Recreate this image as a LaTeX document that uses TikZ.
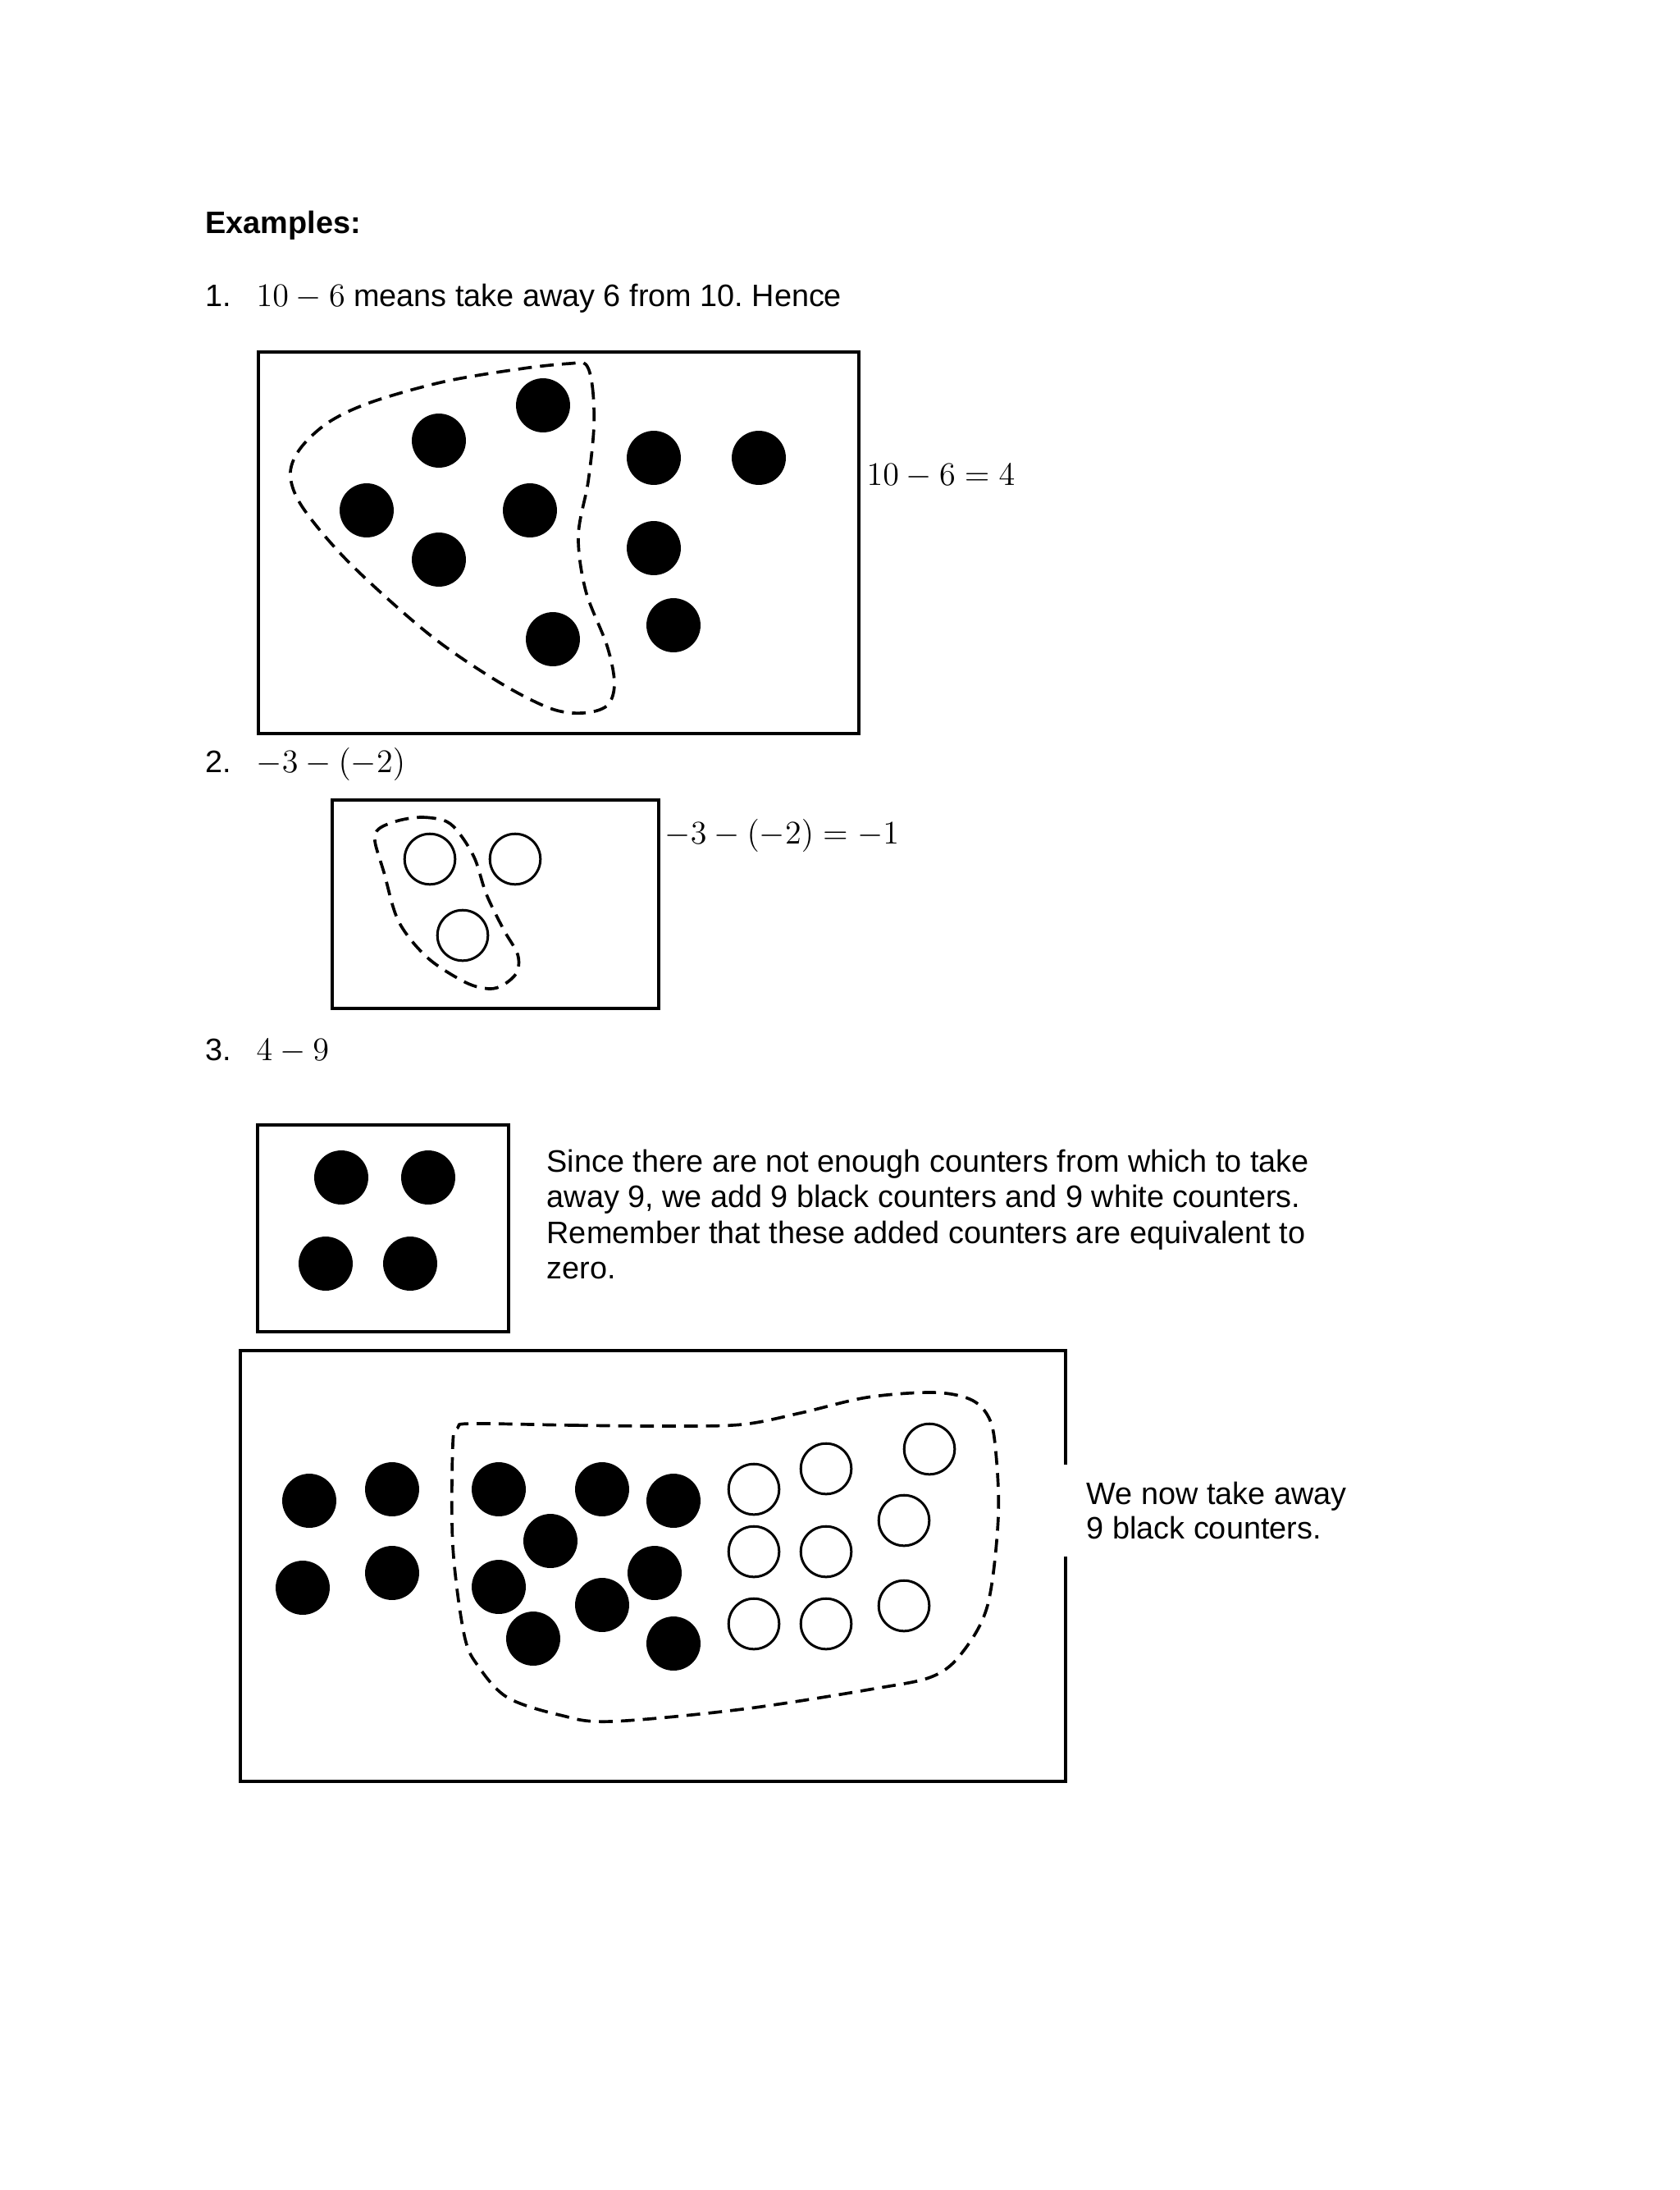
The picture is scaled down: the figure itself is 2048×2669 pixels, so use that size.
\documentclass[tikz,border=0pt]{standalone}
\usepackage{fontspec}
\setmainfont{Liberation Sans}
\usetikzlibrary{positioning}
\frenchspacing
\newcommand\mth[1]{{\fontsize{11.9}{13}\selectfont$#1$}}

\begin{document}
\begin{tikzpicture}[x=0.2988pt, y=-0.2988pt,
  txt/.style={font=\fontsize{11.3}{13}\selectfont, inner sep=0pt, anchor=base west},
  board/.style={draw, line width=1.1pt},
  blk/.style={circle, fill=black, minimum size=19.7pt, inner sep=0pt},
  wht/.style={circle, draw, line width=0.9pt, fill=white, minimum size=18.4pt, inner sep=0pt},
  takeaway/.style={dash pattern=on 5pt off 3pt, line width=1.1pt}]
\useasboundingbox (0,0) rectangle (2048,2669);
% heading
\node[txt, font=\fontsize{11.3}{13}\selectfont\bfseries] (head) at (250,284) {Examples:};
% example 1
\node[txt] (num1) at (250,373) {1.};
\node[txt] (ex1) at (312,373) {\mth{10-6} means take away 6 from 10. Hence};
\draw[board] (315,429) rectangle (1047,894);
\draw[takeaway] plot[smooth cycle, tension=0.55] coordinates {(714,444) (722,470)
  (724,520) (717,587) (705,653) (714,720) (740,787) (749,833) (740,860) (710,869)
  (670,863) (606,830) (523,773) (427,687) (370,620) (354,580) (365,548) (400,515)
  (453,490) (542,465) (638,449) (695,443)};
\foreach \x/\y [count=\i] in {662/494, 535/537, 797/558, 925/558, 447/622,
  646/622, 535/682, 797/668, 674/779, 821/762}
  \node[blk] (one\i) at (\x,\y) {};
\node[txt] (eq1) at (1056,591) {\mth{10-6=4}};
% example 2
\node[txt] (num2) at (250,941) {2.};
\node[txt] (ex2) at (312,941) {\mth{-3-(-2)}};
\draw[board] (405,975) rectangle (803,1229);
\draw[takeaway] plot[smooth cycle, tension=0.55] coordinates {(486,1000) (515,996)
  (544,1001) (561,1017) (579,1047) (593,1090) (614,1133) (631,1163) (630,1185)
  (614,1200) (596,1205) (567,1197) (521,1167) (486,1123) (468,1063) (457,1025)
  (462,1010)};
\foreach \x/\y [count=\i] in {524/1047, 628/1047, 564/1140}
  \node[wht] (two\i) at (\x,\y) {};
\node[txt] (eq2) at (810,1028) {\mth{-3-(-2)=-1}};
% example 3
\node[txt] (num3) at (250,1292) {3.};
\node[txt] (ex3) at (312,1292) {\mth{4-9}};
\draw[board] (314,1371) rectangle (620,1623);
\foreach \x/\y [count=\i] in {416/1435, 522/1435, 397/1540, 500/1540}
  \node[blk] (three\i) at (\x,\y) {};
\node[txt, anchor=north west, align=left] (note) at (666,1400)
  {Since there are not enough counters from which to take\\
   away 9, we add 9 black counters and 9 white counters.\\
   Remember that these added counters are equivalent to\\
   zero.};
% counters added
\draw[board] (293,1646) rectangle (1299,2171);
\draw[takeaway] plot[smooth cycle, tension=0.55] coordinates {(575,1735) (700,1737)
  (816,1738) (905,1736) (976,1722) (1057,1703) (1137,1697) (1182,1705) (1204,1725)
  (1213,1760) (1217,1848) (1204,1956) (1173,2014) (1137,2043) (1066,2058) (905,2083)
  (744,2098) (682,2090) (619,2069) (584,2032) (566,1993) (552,1884) (552,1760)
  (558,1740)};
\foreach \x/\y [count=\i] in {377/1829, 478/1815, 369/1935, 478/1917, 608/1815,
  734/1815, 821/1829, 671/1878, 798/1917, 608/1934, 734/1956, 650/1997, 821/2003}
  \node[blk] (four\i) at (\x,\y) {};
\foreach \x/\y [count=\i] in {919/1815, 1007/1790, 1133/1766, 1102/1853, 919/1891,
  1007/1891, 919/1979, 1007/1979, 1102/1957}
  \node[wht] (zero\i) at (\x,\y) {};
\node[txt, anchor=north west, align=left, fill=white, inner xsep=8.4pt,
  inner ysep=6.4pt, font=\fontsize{11.3}{12.6}\selectfont] (last) at (1296,1784)
  {We now take away\\9 black counters.};
\end{tikzpicture}
\end{document}
